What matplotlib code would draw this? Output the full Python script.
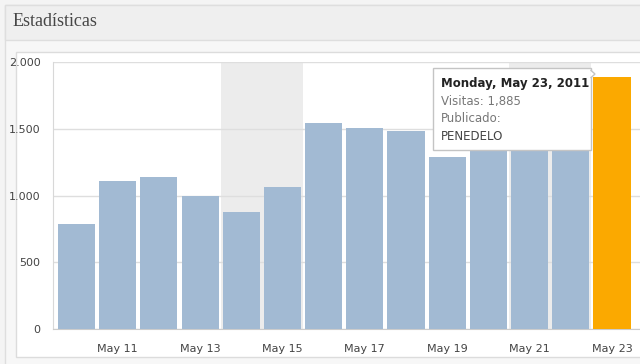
import matplotlib.pyplot as plt
from matplotlib.patches import Rectangle, Polygon
from matplotlib.ticker import FuncFormatter

# daily visits, May 10 - May 23 2011
days = ['May 10', 'May 11', 'May 12', 'May 13', 'May 14', 'May 15', 'May 16',
        'May 17', 'May 18', 'May 19', 'May 20', 'May 21', 'May 22', 'May 23']
visits = [790, 1110, 1140, 1000, 880, 1060, 1545,
          1505, 1485, 1290, 1450, 1400, 1420, 1885]
weekends = [(4, 5), (11, 12)]   # index ranges shaded gray
highlight = 13                  # selected day (tooltip)
tip_lines = ['Monday, May 23, 2011', 'Visitas: 1,885', 'Publicado:', 'PENEDELO']

W, H = 640, 364
fig = plt.figure(figsize=(W / 100, H / 100), dpi=100)
fig.patch.set_facecolor('#f4f4f4')

def px(x, y, w, h, z=-5, **kw):
    # rectangle in pixel coords (top-left origin)
    r = Rectangle((x / W, 1 - (y + h) / H), w / W, h / H, transform=fig.transFigure,
                  zorder=z, **kw)
    fig.patches.append(r)
    return r

# panel + header
px(5, 5, 640, 360, facecolor='#f7f7f7', edgecolor='#dedede', lw=1)
px(5, 5, 640, 35, facecolor='#efefef', edgecolor='#dedede', lw=1)
px(16, 52, 630, 305, facecolor='white', edgecolor='#dcdcdc', lw=1)
fig.text(13 / W, 1 - 22 / H, 'Estadísticas', family='Liberation Serif', fontsize=13,
         color='#464646', va='center', ha='left')

ax = fig.add_axes([53 / W, 35 / H, 587 / W, 267 / H])
ax.set_facecolor('white')
x = list(range(len(days)))
colors = ['#a2bad3'] * len(days)
colors[highlight] = '#fba900'

for a, b in weekends:
    ax.axvspan(a - 0.5, b + 0.5, color='#ececec', lw=0, zorder=0)
ax.bar(x, visits, width=0.9, color=colors, zorder=3)

ax.set_xlim(-0.57, 13.68)
ax.set_ylim(0, 2000)
ax.set_yticks([0, 500, 1000, 1500, 2000])
ax.yaxis.set_major_formatter(FuncFormatter(lambda v, p: f'{int(v):,}'.replace(',', '.')))
ax.grid(axis='y', color='#dedede', lw=1, zorder=1)
ax.set_xticks(x[1::2])
ax.set_xticklabels(days[1::2])
ax.tick_params(length=0, labelsize=8, labelcolor='#444444')
ax.tick_params(axis='x', pad=11)
ax.tick_params(axis='y', pad=9)
for s in ['top', 'right']:
    ax.spines[s].set_visible(False)
ax.spines['left'].set_color('#d8d8d8')
ax.spines['bottom'].set_color('#cccccc')

# tooltip
px(433, 68, 158, 82, z=10, facecolor='white', edgecolor='#c4c4c4', lw=1)
tri = Polygon([(590.5 / W, 1 - 70 / H), (595 / W, 1 - 74 / H), (590.5 / W, 1 - 78 / H)],
              closed=False, transform=fig.transFigure, facecolor='white',
              edgecolor='#c4c4c4', lw=1, zorder=11)
fig.patches.append(tri)
tip_y = [83, 101, 119, 136]
tip_style = [dict(weight='bold', color='#222222'), dict(color='#777777'),
             dict(color='#777777'), dict(color='#444444')]
for t, yy, st in zip(tip_lines, tip_y, tip_style):
    fig.text(441 / W, 1 - yy / H, t, fontsize=8.5, va='center', ha='left', zorder=12, **st)

fig.savefig('out.png', dpi=100)
